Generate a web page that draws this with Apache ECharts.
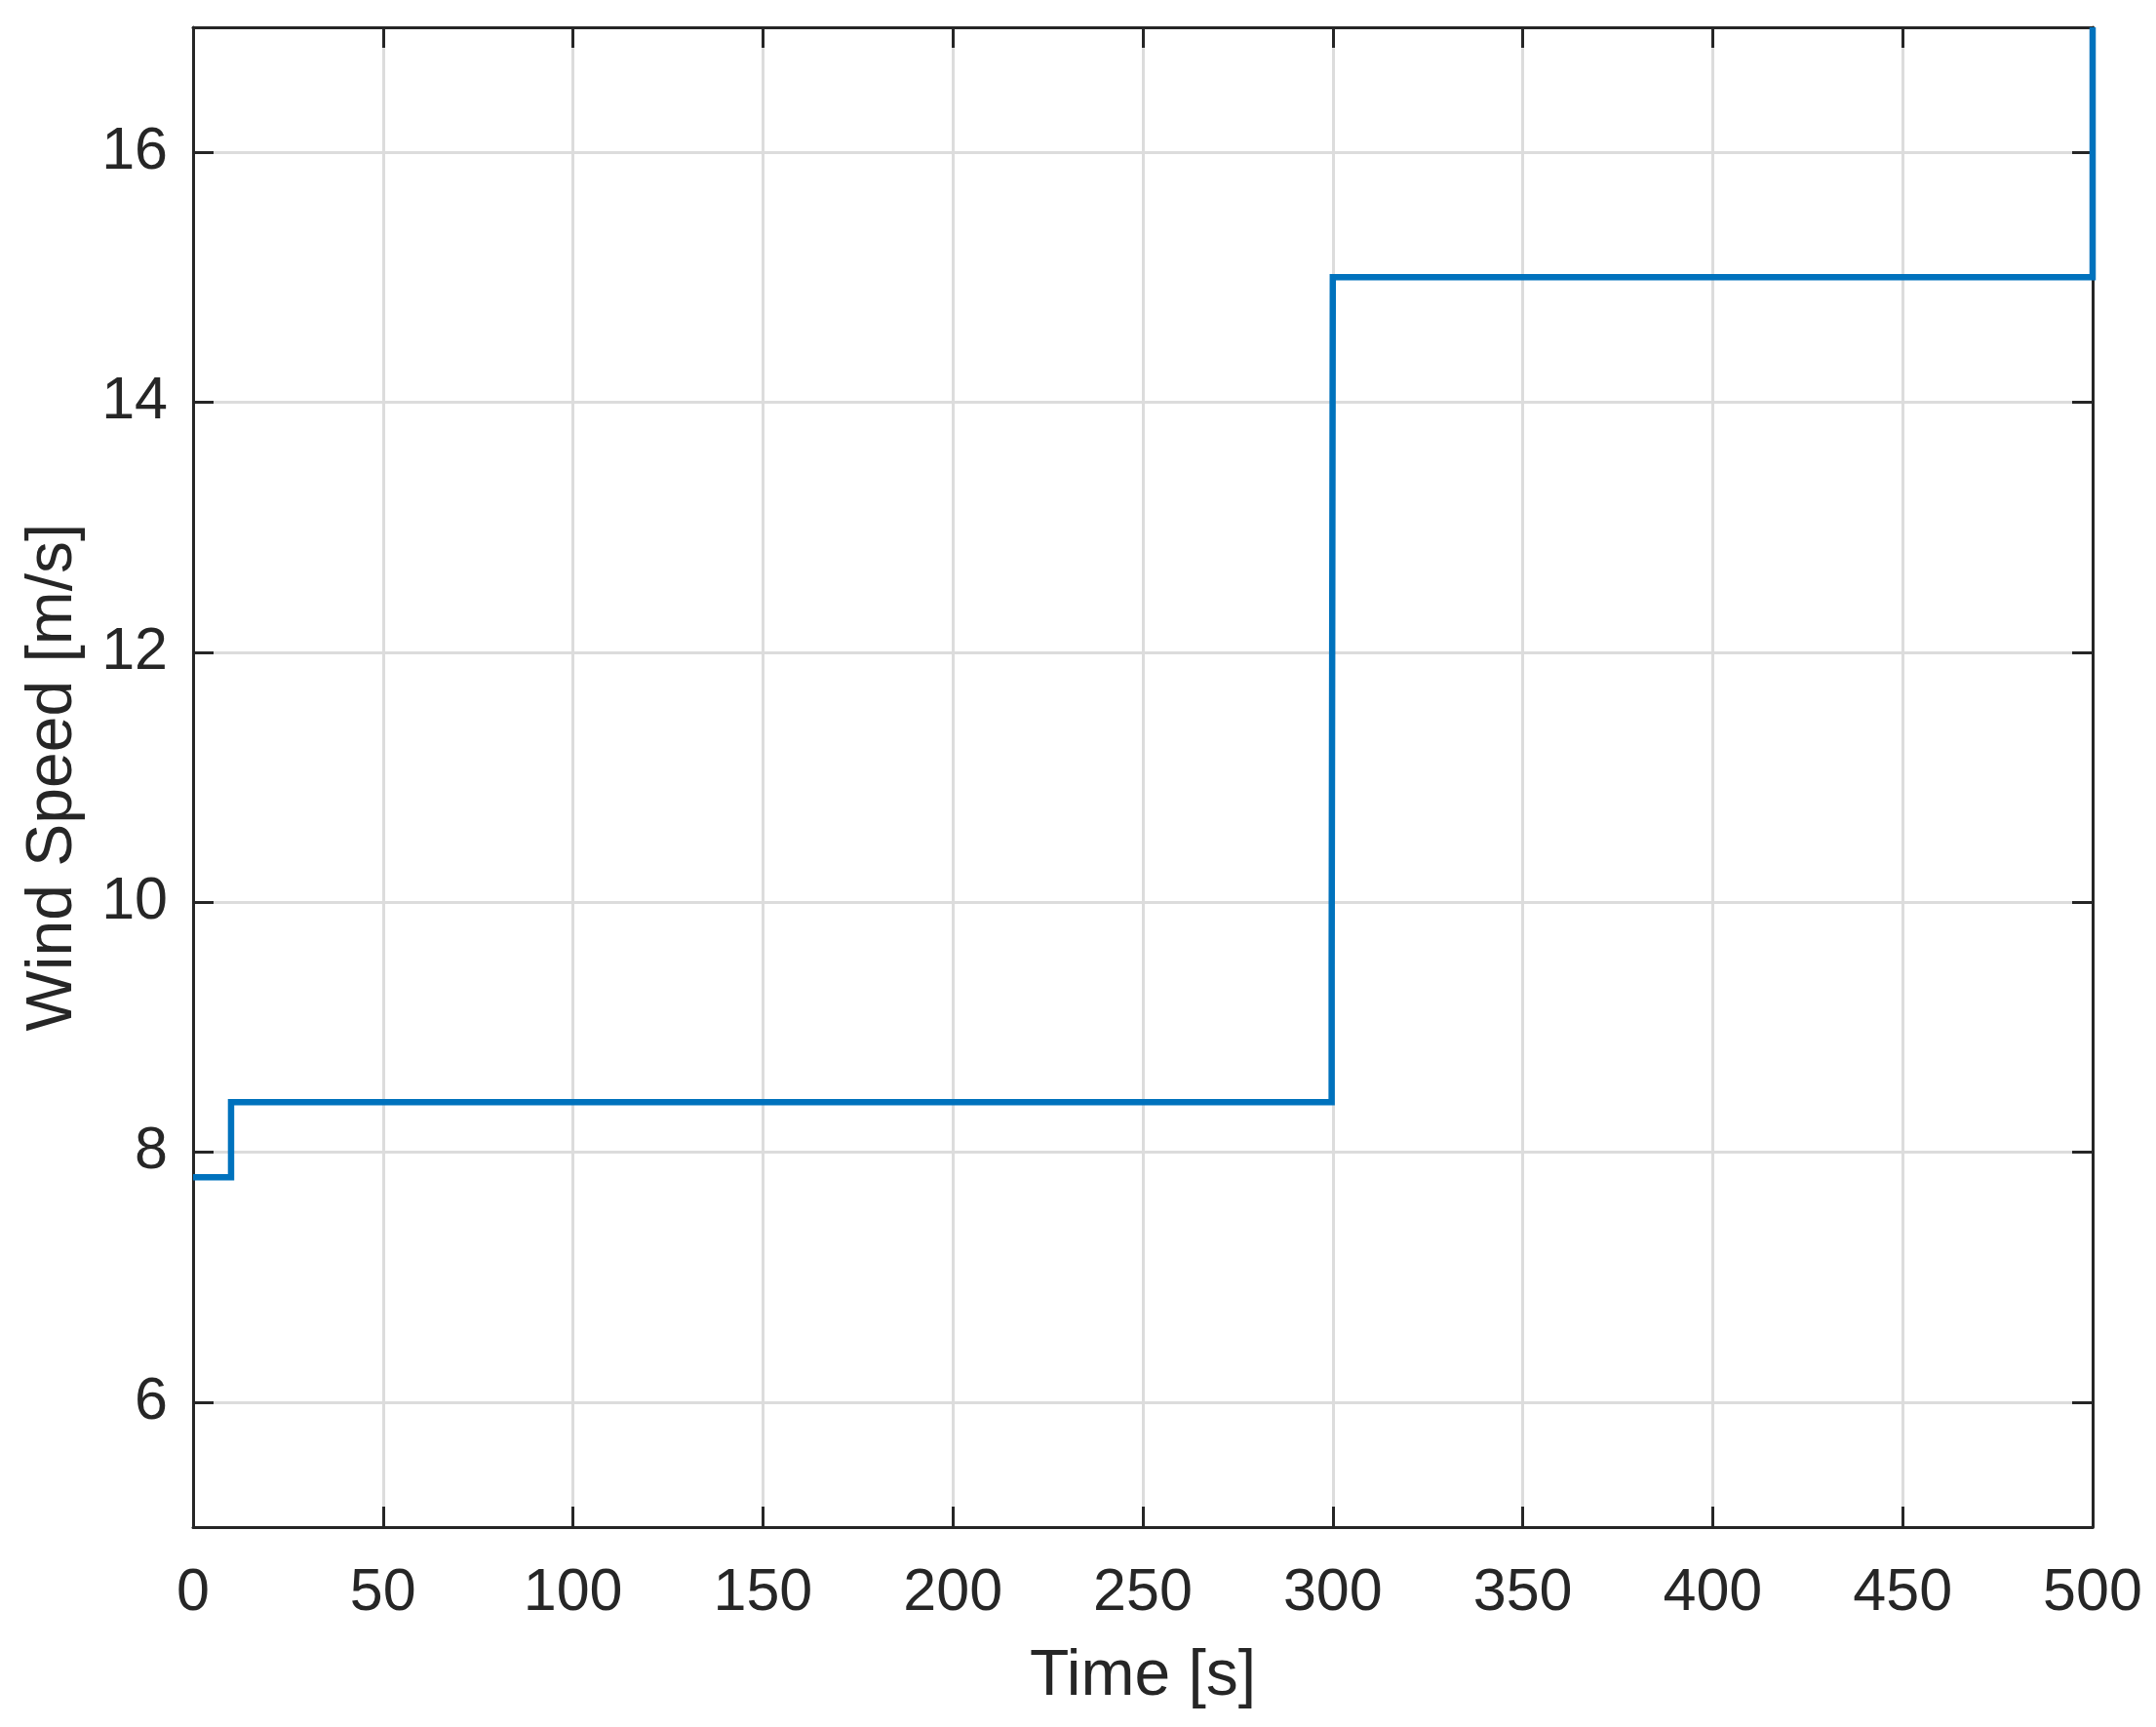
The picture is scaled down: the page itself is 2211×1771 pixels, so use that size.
<!DOCTYPE html>
<html>
<head>
<meta charset="UTF-8" />
<title>Wind Speed</title>
<script src="https://cdn.jsdelivr.net/npm/echarts@6/dist/echarts.min.js"></script>
<style>
html, body { margin: 0; padding: 0; background: #fff; }
</style>
</head>
<body>
<div id="chart" style="width: 2211px; height: 1771px;"></div>
<script>
// step profile of the wind speed
var timeS = [0, 10, 10, 299.7, 299.7, 300, 300, 500, 500];
var windSpeed = [7.8, 7.8, 8.4, 8.4, 9.5, 9.5, 15, 15, 17];
var yTicks = [6, 8, 10, 12, 14, 16];

var points = timeS.map(function (t, i) { return [t, windSpeed[i]]; });

var font = '"Liberation Sans", Arial, sans-serif';
var ink = "#262626";

var chart = echarts.init(document.getElementById("chart"));

var option = {
  animation: false,
  backgroundColor: "#fff",
  grid: { left: 198, right: 65, top: 28, bottom: 205, containLabel: false, outerBoundsMode: "none" },
  xAxis: [
    {
      type: "value", min: 0, max: 500, interval: 50, position: "bottom",
      name: "Time [s]", nameLocation: "middle", nameGap: 121,
      nameTextStyle: { fontFamily: font, fontSize: 66, color: ink },
      axisLine: { show: true, lineStyle: { color: ink, width: 3 } },
      axisTick: { show: true, inside: true, length: 21, lineStyle: { color: ink, width: 3 } },
      axisLabel: { fontFamily: font, fontSize: 61, color: ink, margin: 38 },
      splitLine: { show: true, lineStyle: { color: "#dcdcdc", width: 3 } }
    },
    {
      type: "value", min: 0, max: 500, interval: 50, position: "top",
      axisLine: { show: true, onZero: false, lineStyle: { color: ink, width: 3 } },
      axisTick: { show: true, inside: true, length: 21, lineStyle: { color: ink, width: 3 } },
      axisLabel: { show: false },
      splitLine: { show: false }
    }
  ],
  yAxis: [
    {
      type: "value", min: 5, max: 17, position: "left",
      name: "Wind Speed [m/s]", nameLocation: "middle", nameGap: 110,
      nameTextStyle: { fontFamily: font, fontSize: 66, color: ink },
      axisLine: { show: true, onZero: false, lineStyle: { color: ink, width: 3 } },
      axisTick: { show: true, inside: true, length: 21, customValues: yTicks, lineStyle: { color: ink, width: 3 } },
      axisLabel: { fontFamily: font, fontSize: 61, color: ink, margin: 26, customValues: yTicks },
      splitLine: { show: true, lineStyle: { color: "#dcdcdc", width: 3 } }
    },
    {
      type: "value", min: 5, max: 17, position: "right",
      axisLine: { show: true, onZero: false, lineStyle: { color: ink, width: 3 } },
      axisTick: { show: true, inside: true, length: 21, customValues: yTicks, lineStyle: { color: ink, width: 3 } },
      axisLabel: { show: false, customValues: yTicks },
      splitLine: { show: false }
    }
  ],
  series: [
    {
      type: "line",
      xAxisIndex: 0,
      yAxisIndex: 0,
      data: points,
      showSymbol: false,
      clip: false,
      lineStyle: { color: "#0072BD", width: 6.5, join: "miter" },
      z: 5
    }
  ]
};

chart.setOption(option);
</script>
</body>
</html>
